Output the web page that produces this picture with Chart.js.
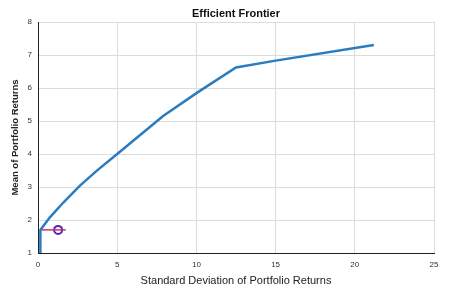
<!DOCTYPE html>
<html>
<head>
<meta charset="utf-8">
<script src="https://cdn.jsdelivr.net/npm/chart.js@4.4.1/dist/chart.umd.min.js"></script>
<style>
  html, body { margin: 0; padding: 0; background: #fff; }
  #wrap { width: 449px; height: 293px; }
</style>
</head>
<body>
<div id="wrap"><canvas id="frontier"></canvas></div>
<script>
// frontier curve (std dev, mean)
const frontierRisk = [0.15, 0.15, 0.75, 1.6, 2.65, 3.7, 5.0, 7.9, 10.05, 12.5, 15.0, 21.2];
const frontierReturn = [1.0, 1.7, 2.08, 2.53, 3.04, 3.49, 4.0, 5.15, 5.86, 6.62, 6.83, 7.3];

// portfolio marker with its horizontal bar
const markerRisk = [1.27];
const markerReturn = [1.7];
const barRisk = [0.2, 1.75];
const barReturn = [1.7, 1.7];

const xTicks = [0, 5, 10, 15, 20, 25];
const yTicks = [1, 2, 3, 4, 5, 6, 7, 8];

function toPoints(xs, ys) {
    return xs.map((x, i) => ({ x: x, y: ys[i] }));
}

const fontFamily = '"Liberation Sans", Arial, sans-serif';

new Chart(document.getElementById('frontier').getContext('2d'), {
    type: 'scatter',
    data: {
        datasets: [{
            label: 'Frontier',
            data: toPoints(frontierRisk, frontierReturn),
            showLine: true,
            borderColor: '#2a7cc0',
            borderWidth: 2.5,
            pointRadius: 0,
            tension: 0
        }, {
            label: 'Bar',
            data: toPoints(barRisk, barReturn),
            showLine: true,
            borderColor: '#c8306a',
            borderWidth: 1.5,
            pointRadius: 0
        }, {
            label: 'Portfolio',
            data: toPoints(markerRisk, markerReturn),
            pointRadius: 4,
            pointBorderWidth: 2,
            pointBorderColor: '#5a1fb8',
            pointBackgroundColor: 'rgba(255,255,255,0)'
        }]
    },
    options: {
        responsive: true,
        maintainAspectRatio: false,
        animation: false,
        layout: { padding: { left: 0, right: 15, top: 0, bottom: 0 } },
        plugins: {
            legend: { display: false },
            tooltip: { enabled: false },
            title: {
                display: true,
                text: 'Efficient Frontier',
                fullSize: false,
                color: '#111',
                font: { family: fontFamily, size: 11, weight: 'bold', lineHeight: 1 },
                padding: { top: 8, bottom: 3 }
            }
        },
        scales: {
            x: {
                type: 'linear',
                min: 0,
                max: 25,
                afterBuildTicks: function (scale) {
                    scale.ticks = xTicks.map(v => ({ value: v }));
                },
                afterFit: function (scale) { scale.height = 40; },
                grid: { color: '#dcdcdc', drawTicks: false },
                border: { color: '#222', width: 1 },
                ticks: {
                    color: '#333',
                    padding: 7,
                    font: { family: fontFamily, size: 8 }
                },
                title: {
                    display: true,
                    text: 'Standard Deviation of Portfolio Returns',
                    color: '#222',
                    padding: { top: 0, bottom: 5 },
                    font: { family: fontFamily, size: 11 }
                }
            },
            y: {
                type: 'linear',
                min: 1,
                max: 8,
                afterBuildTicks: function (scale) {
                    scale.ticks = yTicks.map(v => ({ value: v }));
                },
                afterFit: function (scale) { scale.width = 38; },
                grid: { color: '#dcdcdc', drawTicks: false },
                border: { color: '#222', width: 1 },
                ticks: {
                    color: '#333',
                    padding: 6,
                    font: { family: fontFamily, size: 8 }
                },
                title: {
                    display: true,
                    text: 'Mean of Portfolio Returns',
                    color: '#222',
                    padding: { top: 10, bottom: 0 },
                    font: { family: fontFamily, size: 9.5, weight: 'bold' }
                }
            }
        }
    }
});
</script>
</body>
</html>
